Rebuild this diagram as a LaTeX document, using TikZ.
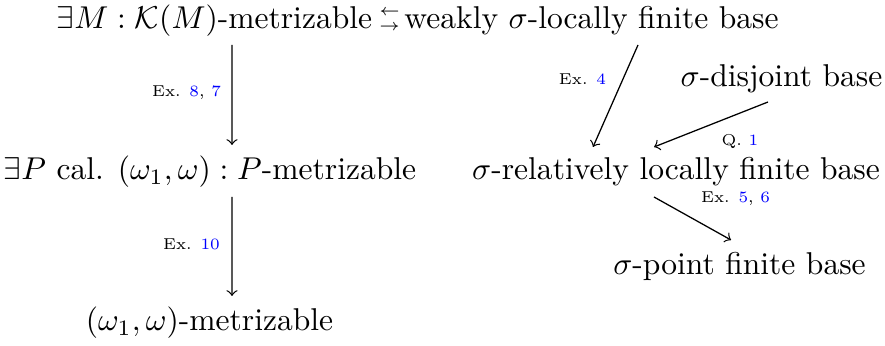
\documentclass[tikz,border=0pt]{standalone}
\usepackage{amssymb}
\usepackage{fontspec}
\newfontfamily\lmsix{lmroman6-regular.otf}
\usetikzlibrary{calc}
\begin{document}
\begin{tikzpicture}[x=0.317pt,y=-0.317pt,
  lbl/.style={inner sep=0pt,anchor=base},
  arr/.style={->,>=to,line width=0.4pt},
  ann/.style={inner sep=0pt,font=\lmsix\fontsize{5pt}{6pt}\selectfont}]
\useasboundingbox (0,0) rectangle (885,346);
\node[lbl] (A) at (214.5,29) {$\exists M:\mathcal{K}(M)$-metrizable};
\node[inner sep=0pt,align=center,font=\fontsize{4.6pt}{4.7pt}\selectfont] (S) at (389.5,20) {$\leftarrow$\\$\rightarrow$};
\node[lbl] (B) at (591.5,29) {weakly $\sigma$-locally finite base};
\node[lbl] (E) at (781.5,87) {$\sigma$-disjoint base};
\node[lbl] (C) at (210,180) {$\exists P$ cal. $(\omega_1,\omega):P$-metrizable};
\node[lbl] (F) at (676,180) {$\sigma$-relatively locally finite base};
\node[lbl] (G) at (739.5,275) {$\sigma$-point finite base};
\node[lbl] (D) at (209.5,331) {$(\omega_1,\omega)$-metrizable};
\draw[arr] ($(A.base)+(17.5,16)$) -- ($(C.base)+(22,-35)$);
\draw[arr] ($(C.base)+(22,17)$) -- ($(D.base)+(22.5,-35)$);
\draw[arr] ($(B.base)+(46.5,16)$) -- ($(F.base)+(-83,-33)$);
\draw[arr] ($(E.base)+(-13.5,15)$) -- ($(F.base)+(-22,-33)$);
\draw[arr] ($(F.base)+(-22,17)$) -- ($(G.base)+(-8.5,-35)$);
\node[ann] (l1) at (186.5,93) {Ex. \textcolor{blue}{8}, \textcolor{blue}{7}};
\node[ann] (l2) at (191.5,244) {Ex. \textcolor{blue}{10}};
\node[ann] (l3) at (582.5,79) {Ex. \textcolor{blue}{4}};
\node[ann] (l4) at (740,141) {Q. \textcolor{blue}{1}};
\node[ann] (l5) at (735.5,199) {Ex. \textcolor{blue}{5}, \textcolor{blue}{6}};
\end{tikzpicture}
\end{document}
